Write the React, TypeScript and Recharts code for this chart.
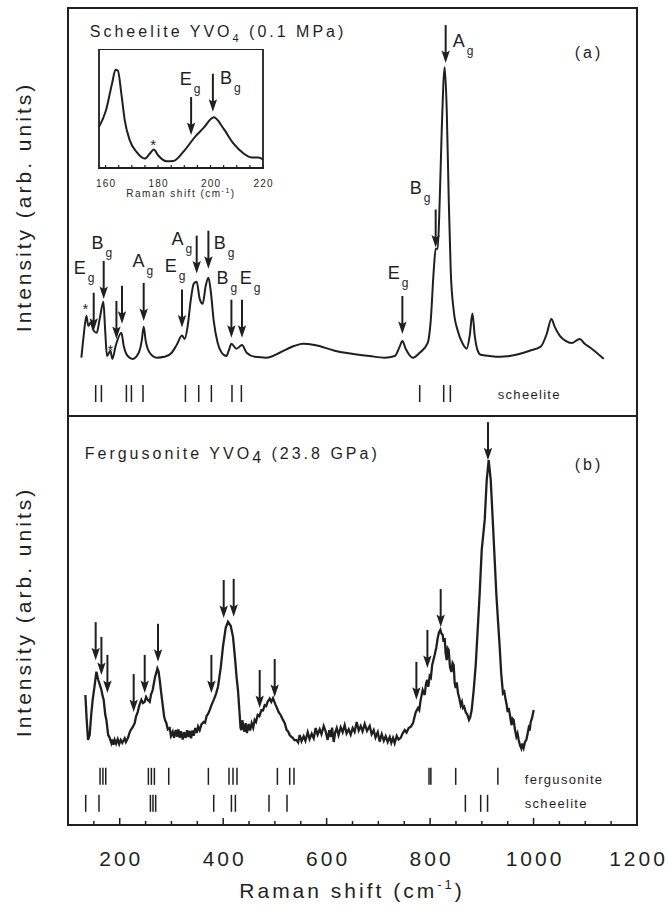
import React from 'react';
import { ComposedChart, Line, Scatter, XAxis, YAxis, ReferenceArea } from 'recharts';

const FONT = '"Liberation Sans", Arial, Helvetica, sans-serif';
const INK = '#1f1f1f';

// (a) scheelite YVO4 at 0.1 MPa: [Raman shift (cm-1), intensity]
const spectrumA: [number, number][] = [
  [125.9, 14.3], [130.3, 19.7], [135.6, 24.6], [139, 22.1], [143.9, 22.9], [149.7, 20.9], [155.5, 20.4],
  [161.3, 23.8], [168.4, 28], [171.9, 20.9], [175.4, 14.7], [182, 16], [185.8, 14], [192.2, 17.2],
  [203.2, 20.4], [207.7, 17.2], [215.4, 14.7], [225, 14], [236.7, 15.5], [242.5, 18.4], [246.3, 21.9],
  [250.2, 18.4], [258, 15.5], [271.5, 14.3], [287, 14.5], [300.5, 15.5], [310, 17.4], [320.4, 19.7],
  [325.6, 18.9], [331.4, 22.1], [337.2, 28.3], [343, 32.4], [348.8, 32.9], [354.6, 28.7], [360.4, 27.5],
  [366.2, 31.9], [371.4, 33.9], [375.9, 30.7], [381.7, 23.3], [389.4, 17.9], [397.1, 15.5], [406.2, 14.7],
  [410.7, 16], [415.9, 17.7], [425.5, 16.5], [436.4, 17.4], [445.4, 15.5], [460.9, 14.5], [483.5, 14.3],
  [509.2, 15.5], [538.2, 17.2], [554.3, 17.7], [576.9, 17.4], [615.6, 16], [683.2, 14.7], [712.2, 14.3],
  [731.6, 14.7], [741.2, 17], [746.4, 18.4], [752.8, 16.5], [766.9, 14.3], [779.9, 15.5], [795.4, 17.9],
  [801.2, 23.3], [807, 35.6], [810.8, 41], [814.7, 41], [818.6, 52.8], [822.5, 70], [828.3, 85.5],
  [832.2, 74.9], [836.1, 52.8], [839.9, 35.6], [845.7, 25.8], [853.5, 20.9], [863.1, 17.7], [870.8, 16.5],
  [876.6, 19.7], [881.8, 25.1], [886.3, 19.7], [892, 16], [897.8, 15], [915.2, 14.7], [934.5, 14.5],
  [953.9, 14.7], [992.5, 16], [1013.8, 17], [1025.4, 20.1], [1034.5, 23.8], [1040.8, 21.9], [1050.5, 19.7],
  [1062.1, 18.4], [1073.7, 17.9], [1089.2, 18.9], [1098.8, 17.7], [1112.4, 16.5], [1135.6, 14],
];
const arrowsA: [number, number][] = [
  [149.7, 20.9], [169, 28.7], [193.6, 18.9], [204.4, 22.6], [246.3, 23.3], [320.4, 21.7], [348.8, 34.9],
  [371.4, 36.1], [415.9, 19.2], [436.4, 19.2], [746.4, 20.1], [810.8, 41.3], [830.1, 86.5],
];
const modesA: [string, number, number][] = [
  ['E', 111, 34.9], ['B', 145.2, 41], ['A', 224.5, 36.4], ['E', 286.9, 35.2], ['A', 299.9, 41.8],
  ['B', 381.7, 41], ['B', 386.9, 32.4], ['E', 431.9, 32.4], ['A', 843.7, 90.5], ['B', 760.5, 54.5],
  ['E', 718, 33.7],
];
const starsA: [number, number][] = [[133.6, 27], [182, 17]];
const scheeliteRowA = [153.5, 164.6, 212.9, 222.6, 245, 327, 352.7, 377.2, 417, 435.2, 779.9, 826.3, 839.2];

// inset of (a): 160-220 cm-1
const spectrumInset: [number, number][] = [
  [157.5, 34.6], [160.2, 48.7], [162.5, 71.3], [163.8, 82.5], [164.7, 81.9], [166, 62.8], [167.3, 40.3],
  [169.2, 23.4], [171.8, 13.5], [175, 7.9], [176.9, 12.2], [178.4, 15.5], [180, 10.7], [183.3, 5.7],
  [185.8, 5.9], [189.6, 13.5], [194.1, 26.2], [197.2, 33.3], [201.3, 42.6], [204.9, 33.3], [208.7, 20.6],
  [212.6, 12.2], [215.8, 8.8], [218.3, 8.8], [220, 7.1],
];
const arrowsInset: [number, number][] = [[192.6, 27.7], [200.9, 47.3]];
const modesInset: [string, number, number][] = [['E', 188.3, 69.8], ['B', 203.6, 71]];
const starsInset: [number, number][] = [[178.1, 22]];

// (b) fergusonite YVO4 at 23.8 GPa
const spectrumB: [number, number][] = [
  [133.6, 31.8], [136, 26], [138.7, 20.8], [141.9, 22], [144.8, 26.9], [147.7, 30.6], [151.6, 34.2],
  [154.9, 37.5], [158.4, 35.5], [161, 34.5], [164.6, 33], [167, 31.5], [169, 30.6], [172, 27], [174.2, 25.7],
  [177.7, 22], [180, 21.5], [183.9, 20], [186, 20.9], [188, 19.6], [190.3, 20.8], [193, 19.9], [196.1, 21],
  [199, 19.8], [201.9, 20.8], [205, 20.1], [209.6, 21.2], [212, 20.3], [216, 21.3], [219, 22.6], [221.2, 23.2],
  [225, 23.9], [228.9, 24.9], [231.5, 26.5], [234.7, 27.6], [238, 29.3], [241.9, 30.6], [245, 29.8],
  [248.3, 30.1], [251, 31.3], [254.1, 30.6], [257.9, 30.1], [260.5, 31.9], [263.7, 33], [268, 36],
  [272.8, 38.3], [275, 37.6], [277.3, 35.5], [280, 32.5], [283.1, 29.3], [286, 26.4], [288, 25.5],
  [290.2, 24.9], [293, 23.4], [296.6, 23.7], [299, 21.8], [302.4, 22.8], [305, 21.3], [308.2, 23.2],
  [311, 21.6], [313.5, 23.4], [315.9, 21.3], [318.5, 22.9], [321.7, 20.9], [324.5, 22.7], [327.5, 21.3],
  [330.5, 23.2], [333, 21.5], [335.3, 23], [338, 21.2], [340.5, 23.1], [343, 21.8], [346, 23.7], [348.8, 22.5],
  [351.5, 24.1], [354.6, 23.2], [358, 24.6], [362.4, 25.2], [365, 25], [368.1, 26.7], [371, 27.2],
  [373.9, 28.1], [377, 29.2], [381.7, 30.6], [386, 32], [390, 33.8], [395.2, 38.4], [399.6, 43.6],
  [404.9, 48.2], [409.3, 49.7], [414.5, 48.7], [419, 46], [423.2, 40.3], [426, 36], [428.6, 33], [431.9, 26.9],
  [433.5, 23.8], [435.2, 23.2], [437, 25.6], [438.7, 24.2], [441, 22.8], [443.5, 24.9], [446, 22.5],
  [449.3, 24.7], [452, 23.1], [455.1, 24.9], [458, 23.8], [460.9, 25.7], [463.5, 25.2], [466.7, 26.9],
  [470, 26.6], [473.9, 28.1], [477, 28], [480.2, 29.3], [483, 29.1], [486, 30.1], [490, 30.9], [493, 30.1],
  [496.3, 31], [499, 30.1], [501.5, 29.3], [504, 28.6], [507.3, 27.6], [511, 26.9], [515.6, 25.7], [519, 24.9],
  [522.8, 23.2], [525.5, 22.9], [528.6, 22], [531.5, 21.6], [534.4, 21.3], [538, 20.7], [541.5, 20.8],
  [545, 20.2], [547.9, 22], [551.5, 20.5], [555.6, 21.7], [559, 20.6], [563.4, 22.7], [567, 21], [571.1, 22.3],
  [575, 21.2], [578.8, 23.7], [582.5, 22.1], [586.6, 23.4], [590, 22.2], [594.3, 24.2], [598, 22.9], [602, 20.8],
  [605, 23.2], [607.9, 21.5], [610.5, 23.8], [613.7, 20.3], [616.5, 22.6], [619.5, 23.7], [623, 22],
  [627.2, 23.9], [631, 22.7], [634.9, 24.4], [638.5, 22.4], [642.7, 23.4], [646.5, 22.1], [650.4, 23.7],
  [654, 22.8], [658.1, 25.2], [662, 23.1], [665.9, 24.2], [669.5, 22.9], [673.6, 24.7], [678, 23],
  [683.3, 24.2], [687, 22.2], [691, 23.2], [694.5, 21.4], [698.8, 22.7], [702.5, 20.4], [706.5, 22.2],
  [710.5, 20.6], [714.2, 21.7], [718, 20.3], [722, 21.5], [725, 20.1], [728.3, 21.3], [731.5, 20],
  [735.4, 21.8], [739, 20.9], [743.2, 21.3], [747, 22.4], [750.9, 23.2], [754.5, 22.6], [758.6, 23.7],
  [762.5, 24], [767, 24.9], [772.2, 27.6], [776.6, 28.6], [779, 28.1], [781.8, 30.6], [785.7, 33], [789.6, 31.8],
  [792, 34.5], [794.4, 35.5], [796.5, 33.8], [799.2, 36.4], [801.5, 36], [804, 39.1], [808.9, 41.6], [812, 43.4],
  [814.7, 45.7], [817, 47], [819.9, 47.7], [822, 46.8], [824.3, 46.5], [826, 44.8], [828.2, 45.7], [830, 42.1],
  [832.1, 40.3], [834, 43.2], [835.9, 42.8], [838.5, 38.6], [841.2, 37.4], [843.5, 39.6], [845.6, 39.1],
  [847.5, 34.8], [849.5, 33.5], [851.5, 34.9], [853.9, 32.3], [856.5, 31], [859.2, 29.3], [861.5, 30.1],
  [863.6, 28.6], [866, 28.9], [868.8, 27.6], [872, 27], [875.2, 25.7], [877.5, 26.3], [880.4, 28.1],
  [884.3, 33], [888.2, 39.1], [892, 47.7], [895.9, 56.7], [899.8, 67.2], [905.6, 74.6], [909.5, 84.4],
  [913.3, 89.2], [917.2, 84.4], [921.1, 74.6], [924.9, 64.8], [928, 56.6], [931.2, 50.1], [934.5, 43.6],
  [937.5, 37], [940.9, 32.2], [943.5, 32.6], [946.1, 30.6], [948, 29.4], [950, 27.6], [951.8, 28.6],
  [953.9, 27.3], [955.8, 25.6], [957.7, 24.4], [959.5, 26], [961.6, 25.7], [964, 23.4], [966.8, 21.6],
  [969, 22.4], [971.3, 20.8], [974, 19.4], [976.5, 18.7], [978.6, 19.9], [980.9, 18.9], [983.5, 20.3],
  [986.1, 20.8], [988.5, 22.3], [990.6, 23.7], [992.5, 23.1], [994.5, 25.2], [997, 26.1], [1000.3, 28.1],
];
const arrowsB: [number, number][] = [
  [153.5, 40.3], [164.6, 36.7], [176.2, 32.3], [227, 27.6], [248.3, 32.3], [274, 39.9], [377.2, 32.3],
  [401, 50.6], [420.3, 50.9], [470.6, 28.6], [499.6, 31.3], [773.5, 30.6], [794.8, 38.4], [820.5, 48.4],
  [911.9, 89.2],
];
const fergusoniteRowB = [
  162, 167.5, 173, 255.4, 261.2, 267, 294.7, 371.4, 411.2, 419, 426.7, 504.8, 528.6, 536.9, 797.9, 801.5,
  849.5, 931,
];
const scheeliteRowB = [134.2, 159.9, 259.3, 264.3, 269.5, 381.7, 415.9, 423.6, 488.6, 523.4, 868.2, 897.8, 911.1];

const xTicks = [100, 150, 200, 250, 300, 350, 400, 450, 500, 550, 600, 650, 700, 750, 800, 850, 900, 950, 1000, 1050, 1100, 1150, 1200];
const insetTicks = [160, 165, 170, 175, 180, 185, 190, 195, 200, 205, 210, 215, 220];
const insetLabels = [160, 180, 200, 220];

const pts = (a: [number, number][]) => a.map(([x, v]) => ({ x, v }));
const modes = (a: [string, number, number][]) => a.map(([t, x, v]) => ({ t, x, v }));
const row = (xs: number[], v: number) => xs.map((x) => ({ x, v }));

const ok = (p: any) => Number.isFinite(p.cx) && Number.isFinite(p.cy);

const Arrow = (p: any) => {
  if (!ok(p)) return <g />;
  const { cx, cy } = p;
  return (
    <g>
      <line x1={cx} x2={cx} y1={cy - 38} y2={cy - 9} stroke={INK} strokeWidth={2} />
      <path d={`M${cx} ${cy}L${cx - 4.2} ${cy - 12.5}L${cx} ${cy - 10}L${cx + 4.2} ${cy - 12.5}Z`} fill={INK} />
    </g>
  );
};

const Mode = (p: any) => {
  if (!ok(p)) return <g />;
  return (
    <text x={p.cx} y={p.cy} fontFamily={FONT} fontSize={18} fill={INK}>
      {p.payload.t}
      <tspan dx={2} dy={8} fontSize={12}>g</tspan>
    </text>
  );
};

const Star = (p: any) => {
  if (!ok(p)) return <g />;
  return (
    <text x={p.cx} y={p.cy + 8} textAnchor="middle" fontFamily={FONT} fontSize={15} fill={INK}>*</text>
  );
};

const Bar = (p: any) => {
  if (!ok(p)) return <g />;
  return <line x1={p.cx} x2={p.cx} y1={p.cy - 8.5} y2={p.cy + 8.5} stroke={INK} strokeWidth={1.5} />;
};

const textAt = (content: React.ReactNode, size: number, spacing: number) => (p: any) => {
  if (!ok(p)) return <g />;
  return (
    <text x={p.cx} y={p.cy} fontFamily={FONT} fontSize={size} letterSpacing={spacing} fill={INK}>
      {content}
    </text>
  );
};

const mainTick = (up: boolean, labels: boolean) => (p: any) => {
  const { x, y, payload } = p;
  const major = payload.value % 200 === 0;
  const len = major ? 7 : 4;
  return (
    <g>
      <line x1={x} x2={x} y1={y} y2={up ? y - len : y + len} stroke={INK} strokeWidth={1.5} />
      {labels && major && (
        <text x={x + 1.5} y={y + 41} textAnchor="middle" fontFamily={FONT} fontSize={21} letterSpacing={3} fill={INK}>
          {payload.value}
        </text>
      )}
    </g>
  );
};

const insetTick = (up: boolean, labels: boolean) => (p: any) => {
  const { x, y, payload } = p;
  return (
    <g>
      <line x1={x} x2={x} y1={y} y2={up ? y - 3 : y + 3} stroke={INK} strokeWidth={1.2} />
      {labels && insetLabels.includes(payload.value) && (
        <text x={x + 0.6} y={y + 19} textAnchor="middle" fontFamily={FONT} fontSize={10} letterSpacing={1.2} fill={INK}>
          {payload.value}
        </text>
      )}
    </g>
  );
};

const axisCommon = {
  dataKey: 'x',
  type: 'number' as const,
  interval: 0 as const,
  axisLine: false,
  tickLine: false,
  tickSize: 0,
  tickMargin: 0,
  allowDataOverflow: true,
};

const titleA = (
  <>
    Scheelite YVO<tspan dy={5} fontSize={11}>4</tspan><tspan dy={-5}> (0.1 MPa)</tspan>
  </>
);
const titleB = (
  <>
    Fergusonite YVO<tspan dy={4}>4</tspan><tspan dy={-4}> (23.8 GPa)</tspan>
  </>
);

function PanelA() {
  return (
    <ComposedChart width={669} height={417} margin={{ top: 8, right: 32, bottom: 1, left: 68 }}>
      <XAxis {...axisCommon} domain={[100, 1200]} ticks={xTicks} height={0} tick={mainTick(true, false)} />
      <XAxis {...axisCommon} xAxisId="top" orientation="top" domain={[100, 1200]} ticks={xTicks} height={0} tick={mainTick(false, false)} />
      <YAxis hide type="number" domain={[0, 100]} allowDataOverflow />
      <ReferenceArea x1={100} x2={1200} y1={0} y2={100} fill="none" stroke={INK} strokeWidth={2} />
      <Line data={pts(spectrumA)} dataKey="v" type="monotone" stroke={INK} strokeWidth={2} dot={false} isAnimationActive={false} />
      <Scatter data={pts(arrowsA)} dataKey="v" shape={Arrow} isAnimationActive={false} />
      <Scatter data={modes(modesA)} dataKey="v" shape={Mode} isAnimationActive={false} />
      <Scatter data={pts(starsA)} dataKey="v" shape={Star} isAnimationActive={false} />
      <Scatter data={row(scheeliteRowA, 5.5)} dataKey="v" shape={Bar} isAnimationActive={false} />
      <Scatter data={[{ x: 930.8, v: 4.2 }]} dataKey="v" shape={textAt('scheelite', 13, 1.3)} isAnimationActive={false} />
      <Scatter data={[{ x: 142.1, v: 93 }]} dataKey="v" shape={textAt(titleA, 16, 3)} isAnimationActive={false} />
      <Scatter data={[{ x: 1079.5, v: 87.7 }]} dataKey="v" shape={textAt('(a)', 16, 3)} isAnimationActive={false} />
    </ComposedChart>
  );
}

function Inset() {
  return (
    <ComposedChart width={185} height={155} margin={{ top: 0, right: 11, bottom: 0, left: 10 }}>
      <XAxis {...axisCommon} domain={[157.5, 220]} ticks={insetTicks} height={36} tick={insetTick(true, true)} />
      <XAxis {...axisCommon} xAxisId="top" orientation="top" domain={[157.5, 220]} ticks={insetTicks} height={0} tick={insetTick(false, false)} />
      <YAxis hide type="number" domain={[0, 100]} allowDataOverflow />
      <ReferenceArea x1={157.5} x2={220} y1={0} y2={100} fill="none" stroke={INK} strokeWidth={1.8} />
      <Line data={pts(spectrumInset)} dataKey="v" type="monotone" stroke={INK} strokeWidth={2} dot={false} isAnimationActive={false} />
      <Scatter data={pts(arrowsInset)} dataKey="v" shape={Arrow} isAnimationActive={false} />
      <Scatter data={modes(modesInset)} dataKey="v" shape={Mode} isAnimationActive={false} />
      <Scatter data={pts(starsInset)} dataKey="v" shape={Star} isAnimationActive={false} />
    </ComposedChart>
  );
}

function PanelB() {
  return (
    <ComposedChart width={669} height={514} margin={{ top: 8, right: 32, bottom: 0, left: 68 }}>
      <XAxis {...axisCommon} domain={[100, 1200]} ticks={xTicks} height={97} tick={mainTick(true, true)} />
      <XAxis {...axisCommon} xAxisId="top" orientation="top" domain={[100, 1200]} ticks={xTicks} height={0} tick={mainTick(false, false)} />
      <YAxis hide type="number" domain={[0, 100]} allowDataOverflow />
      <ReferenceArea x1={100} x2={1200} y1={0} y2={100} fill="none" stroke={INK} strokeWidth={2} />
      <Line data={pts(spectrumB)} dataKey="v" type="linear" stroke={INK} strokeWidth={2.3} dot={false} isAnimationActive={false} />
      <Scatter data={pts(arrowsB)} dataKey="v" shape={Arrow} isAnimationActive={false} />
      <Scatter data={row(fergusoniteRowB, 11.9)} dataKey="v" shape={Bar} isAnimationActive={false} />
      <Scatter data={row(scheeliteRowB, 5.3)} dataKey="v" shape={Bar} isAnimationActive={false} />
      <Scatter data={[{ x: 983, v: 10 }]} dataKey="v" shape={textAt('fergusonite', 13, 1.3)} isAnimationActive={false} />
      <Scatter data={[{ x: 983, v: 4.2 }]} dataKey="v" shape={textAt('scheelite', 13, 1.3)} isAnimationActive={false} />
      <Scatter data={[{ x: 132.3, v: 89.5 }]} dataKey="v" shape={textAt(titleB, 16, 3)} isAnimationActive={false} />
      <Scatter data={[{ x: 1079.5, v: 86.8 }]} dataKey="v" shape={textAt('(b)', 16, 3)} isAnimationActive={false} />
    </ComposedChart>
  );
}

export default function App() {
  const label = { fontFamily: FONT, fill: INK, letterSpacing: 3 } as const;
  return (
    <div style={{ position: 'absolute', left: 0, top: 0, width: 669, height: 922, background: '#fff', overflow: 'hidden' }}>
      <div style={{ position: 'absolute', left: 0, top: 0 }}>
        <PanelA />
      </div>
      <div style={{ position: 'absolute', left: 0, top: 408 }}>
        <PanelB />
      </div>
      <div style={{ position: 'absolute', left: 89, top: 49 }}>
        <Inset />
      </div>
      <svg width={669} height={922} style={{ position: 'absolute', left: 0, top: 0, pointerEvents: 'none' }}>
        <text transform="translate(31,207) rotate(-90)" textAnchor="middle" fontSize={21} {...label}>
          Intensity (arb. units)
        </text>
        <text transform="translate(31,612) rotate(-90)" textAnchor="middle" fontSize={21} {...label}>
          Intensity (arb. units)
        </text>
        <text x={352} y={898} textAnchor="middle" fontSize={21} {...label}>
          Raman shift (cm<tspan dy={-9} fontSize={13}>-1</tspan><tspan dy={9}>)</tspan>
        </text>
        <text x={181} y={197} textAnchor="middle" fontSize={10} fontFamily={FONT} fill={INK} letterSpacing={1.5}>
          Raman shift (cm<tspan dy={-4} fontSize={7}>-1</tspan><tspan dy={4}>)</tspan>
        </text>
      </svg>
    </div>
  );
}
